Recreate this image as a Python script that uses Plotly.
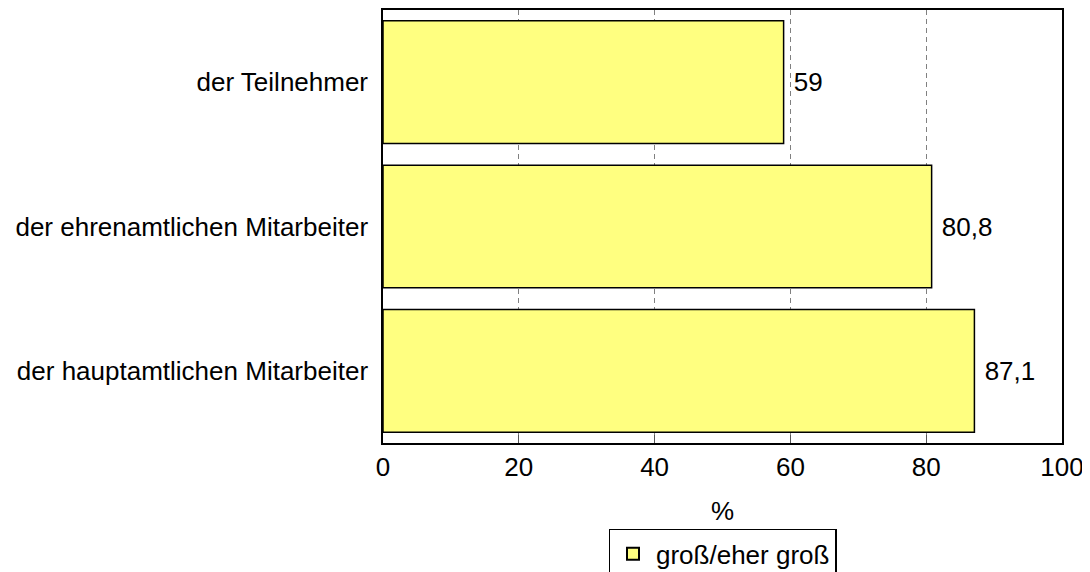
import plotly.graph_objects as go

categories = ["der Teilnehmer", "der ehrenamtlichen Mitarbeiter", "der hauptamtlichen Mitarbeiter"]
values = [59, 80.8, 87.1]
series_name = "groß/eher groß"
x_ticks = [0, 20, 40, 60, 80, 100]

labels = [" " + (f"{v:g}".replace(".", ",")) for v in values]

FONT = "Liberation Sans, Arial, sans-serif"

fig = go.Figure()
fig.add_trace(go.Bar(
    y=categories, x=values, orientation="h", name=series_name,
    marker=dict(color="#FFFF80", line=dict(color="#000000", width=1.5)),
    width=0.85,
    text=labels, textposition="outside", cliponaxis=False,
    textfont=dict(size=26, color="#000000", family=FONT),
))

fig.update_layout(
    width=1090, height=572,
    margin=dict(l=375, r=36, t=2, b=137, autoexpand=False),
    paper_bgcolor="white", plot_bgcolor="white",
    font=dict(family=FONT, size=26, color="#000000"),
    showlegend=True,
    legend=dict(orientation="h", x=0.5, xanchor="center", y=-0.198, yanchor="top",
                bordercolor="#000000", borderwidth=1.5, font=dict(size=26),
                itemsizing="constant", itemwidth=36),
    separators=",.",
)
fig.update_xaxes(
    range=[0, 100], tickvals=x_ticks, ticks="inside", ticklen=8, tickcolor="#555555",
    showline=True, linecolor="#000000", linewidth=1.5, mirror=True,
    showgrid=True, gridcolor="#808080", griddash="5px,4px", gridwidth=1,
    zeroline=False, title=dict(text="%", standoff=21, font=dict(size=26)),
    tickfont=dict(size=26),
)
fig.update_yaxes(
    categoryorder="array", categoryarray=categories, autorange="reversed",
    showline=True, linecolor="#000000", linewidth=1.5, mirror=True,
    showgrid=False, zeroline=False, ticks="", ticklabelstandoff=8,
    tickfont=dict(size=26),
)
fig.write_html("out.html")
